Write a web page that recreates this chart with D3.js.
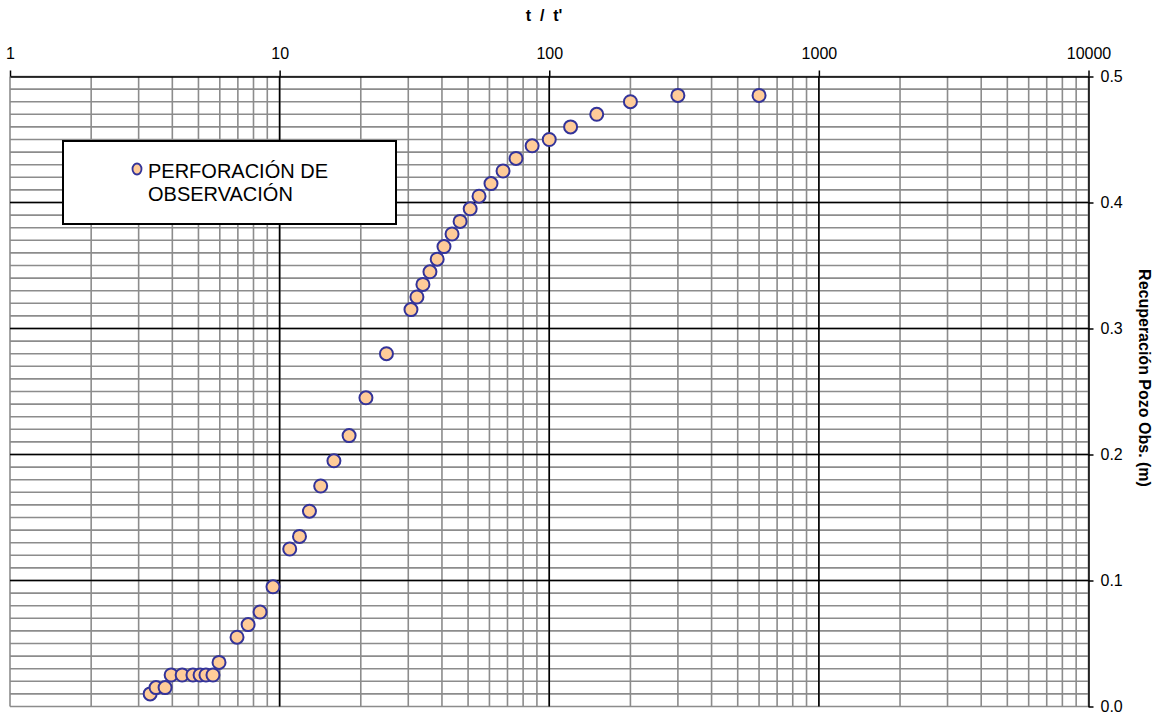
<!DOCTYPE html>
<html>
<head>
<meta charset="utf-8">
<script src="https://cdn.jsdelivr.net/npm/d3@7"></script>
<style>
  body { margin: 0; background: #fff; }
  svg { display: block; font-family: Arial, "Liberation Sans", sans-serif; }
  .c-axis text { font-size: 16px; fill: #000; }
  .c-axis line, .c-axis path { stroke: #000; stroke-width: 1.5px; }
</style>
</head>
<body>
<div id="chart"></div>
<script>
// t / t' values
const tRatio = [3.31, 3.48, 3.76, 3.96, 4.35, 4.77, 5.07, 5.33, 5.66, 5.96,
  6.95, 7.64, 8.46, 9.45, 10.9, 11.85, 12.9, 14.2, 15.9, 18.1,
  20.9, 24.9, 30.7, 32.3, 34.0, 36.1, 38.4, 40.7, 43.6, 46.7,
  50.9, 54.9, 60.8, 67.4, 75.3, 86.4, 100, 120, 150, 200, 300, 600];
// recovery in observation well (m)
const recovery = [0.010, 0.015, 0.015, 0.025, 0.025, 0.025, 0.025, 0.025, 0.025, 0.035,
  0.055, 0.065, 0.075, 0.095, 0.125, 0.135, 0.155, 0.175, 0.195, 0.215,
  0.245, 0.280, 0.315, 0.325, 0.335, 0.345, 0.355, 0.365, 0.375, 0.385,
  0.395, 0.405, 0.415, 0.425, 0.435, 0.445, 0.450, 0.460, 0.470, 0.480, 0.485, 0.485];

const xTicks = [1, 10, 100, 1000, 10000];
const yTicks = [0, 0.1, 0.2, 0.3, 0.4, 0.5];
const seriesName = ['PERFORACIÓN DE', 'OBSERVACIÓN'];

const chartWidth = 1157;
const chartHeight = 715;
const plotLeft = 10, plotRight = 1088.5, plotTop = 76.5, plotBottom = 706.5;

const svg = d3.select('#chart').append('svg')
  .attr('width', chartWidth)
  .attr('height', chartHeight);

const x = d3.scaleLog().domain([1, 10000]).range([plotLeft, plotRight]);
const y = d3.scaleLinear().domain([0, 0.5]).range([plotBottom, plotTop]);

// grid: gray minor lines, then black majors on top
const grid = svg.append('g').attr('class', 'c-grid');

grid.selectAll('line.hy')
  .data(y.ticks(50))
  .enter().append('line')
  .attr('class', 'hy')
  .attr('x1', plotLeft).attr('x2', plotRight)
  .attr('y1', d => y(d)).attr('y2', d => y(d))
  .attr('stroke', '#8c8c8c')
  .attr('stroke-width', 1.6);

grid.selectAll('line.vx')
  .data(x.ticks())
  .enter().append('line')
  .attr('class', 'vx')
  .attr('y1', plotTop).attr('y2', plotBottom)
  .attr('x1', d => x(d)).attr('x2', d => x(d))
  .attr('stroke', '#8c8c8c')
  .attr('stroke-width', 1.6);

grid.selectAll('line.mx')
  .data(xTicks.filter(d => d > 1 && d < 10000))
  .enter().append('line')
  .attr('class', 'mx')
  .attr('y1', plotTop).attr('y2', plotBottom)
  .attr('x1', d => x(d)).attr('x2', d => x(d))
  .attr('stroke', '#000').attr('stroke-width', 1.6);

grid.selectAll('line.my')
  .data(yTicks.filter(d => d > 0 && d < 0.5))
  .enter().append('line')
  .attr('class', 'my')
  .attr('x1', plotLeft).attr('x2', plotRight)
  .attr('y1', d => y(d)).attr('y2', d => y(d))
  .attr('stroke', '#000').attr('stroke-width', 1.6);

// axes
const xAxis = d3.axisTop(x)
  .tickValues(xTicks)
  .tickFormat(d3.format('d'))
  .tickSizeInner(6)
  .tickSizeOuter(0)
  .tickPadding(12);

svg.append('g')
  .attr('class', 'c-axis')
  .attr('transform', 'translate(0,' + plotTop + ')')
  .call(xAxis);

const yAxis = d3.axisRight(y)
  .tickValues(yTicks)
  .tickFormat(d3.format('.1f'))
  .tickSizeInner(5)
  .tickSizeOuter(0)
  .tickPadding(7);

svg.append('g')
  .attr('class', 'c-axis')
  .attr('transform', 'translate(' + plotRight + ',0)')
  .call(yAxis)
  .selectAll('text')
  .attr('dy', '0.3em');

// axis titles
svg.append('text')
  .attr('x', 544)
  .attr('y', 21)
  .attr('text-anchor', 'middle')
  .attr('font-size', 16)
  .attr('font-weight', 'bold')
  .style('white-space', 'pre')
  .text("t  /  t'");

svg.append('text')
  .attr('transform', 'translate(1139,378) rotate(90)')
  .attr('text-anchor', 'middle')
  .attr('font-size', 16)
  .attr('font-weight', 'bold')
  .text('Recuperación Pozo Obs. (m)');

// points
svg.append('g')
  .attr('class', 'c-points')
  .selectAll('circle')
  .data(tRatio.map((t, i) => ({t: t, s: recovery[i]})))
  .enter().append('circle')
  .attr('cx', d => x(d.t))
  .attr('cy', d => y(d.s))
  .attr('r', 6.5)
  .attr('fill', '#ffcc99')
  .attr('stroke', '#333399')
  .attr('stroke-width', 2);

// legend
const legend = svg.append('g').attr('class', 'c-legend');
legend.append('rect')
  .attr('x', 63).attr('y', 141)
  .attr('width', 333).attr('height', 83)
  .attr('fill', '#fff')
  .attr('stroke', '#000')
  .attr('stroke-width', 2);

legend.append('ellipse')
  .attr('cx', 137).attr('cy', 169)
  .attr('rx', 4.5).attr('ry', 5.5)
  .attr('fill', '#ffcc99')
  .attr('stroke', '#333399')
  .attr('stroke-width', 1.8);

legend.selectAll('text')
  .data(seriesName)
  .enter().append('text')
  .attr('x', 148)
  .attr('y', (d, i) => 178 + i * 23)
  .attr('font-size', 20)
  .text(d => d);
</script>
</body>
</html>
